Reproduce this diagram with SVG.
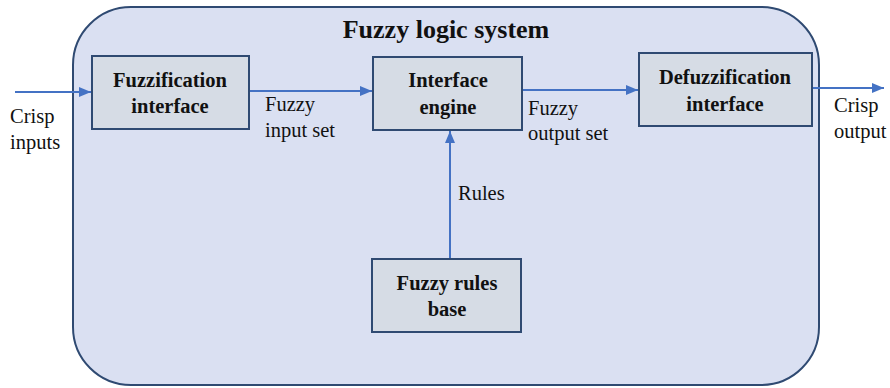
<svg xmlns="http://www.w3.org/2000/svg" width="890" height="388" viewBox="0 0 890 388">
<defs>
<style>
.box{fill:#d6dce5;stroke:#2f4a72;stroke-width:2}
.bt{font-family:'Liberation Serif','Times New Roman',Times,'DejaVu Serif',serif;font-weight:bold;font-size:20.5px;fill:#111;text-anchor:middle}
.lt{font-family:'Liberation Serif','Times New Roman',Times,'DejaVu Serif',serif;font-size:20.5px;fill:#111}
.tt{font-family:'Liberation Serif','Times New Roman',Times,'DejaVu Serif',serif;font-weight:bold;font-size:26px;fill:#111;text-anchor:middle}
.ln{stroke:#4472c4;stroke-width:2;fill:none}
</style>
<marker id="ah" viewBox="0 0 12 10" refX="12" refY="5" markerWidth="12" markerHeight="10" markerUnits="userSpaceOnUse" orient="auto">
<path d="M0,0 L12,5 L0,10 z" fill="#4472c4"/>
</marker>
</defs>
<rect width="890" height="388" fill="#fff"/>
<g id="system">
<rect x="73" y="7" width="746" height="378" rx="58" ry="58" fill="#dae0f2" stroke="#2f4a72" stroke-width="2"/>
<text class="tt" x="446" y="38">Fuzzy logic system</text>
</g>
<g id="connectors">
<line class="ln" x1="15" y1="92" x2="91" y2="92" marker-end="url(#ah)"/>
<line class="ln" x1="249" y1="91" x2="372" y2="91" marker-end="url(#ah)"/>
<line class="ln" x1="522" y1="90" x2="638" y2="90" marker-end="url(#ah)"/>
<line class="ln" x1="810" y1="88" x2="884" y2="88" marker-end="url(#ah)"/>
<line class="ln" x1="450" y1="259" x2="450" y2="131" marker-end="url(#ah)"/>
<text class="lt" x="10" y="123">Crisp</text>
<text class="lt" x="10" y="149">inputs</text>
<text class="lt" x="265" y="111">Fuzzy</text>
<text class="lt" x="265" y="137">input set</text>
<text class="lt" x="528" y="115">Fuzzy</text>
<text class="lt" x="528" y="140">output set</text>
<text class="lt" x="834" y="112">Crisp</text>
<text class="lt" x="834" y="138">output</text>
<text class="lt" x="458" y="200">Rules</text>
</g>
<g id="fuzzification">
<rect class="box" x="92" y="56" width="157" height="73"/>
<text class="bt" x="170" y="87">Fuzzification</text>
<text class="bt" x="170" y="113">interface</text>
</g>
<g id="engine">
<rect class="box" x="373" y="57" width="149" height="73"/>
<text class="bt" x="448" y="87">Interface</text>
<text class="bt" x="448" y="114">engine</text>
</g>
<g id="defuzzification">
<rect class="box" x="639" y="53" width="173" height="73"/>
<text class="bt" x="725" y="84">Defuzzification</text>
<text class="bt" x="725" y="111">interface</text>
</g>
<g id="rulesbase">
<rect class="box" x="372" y="259" width="149" height="73"/>
<text class="bt" x="447" y="290">Fuzzy rules</text>
<text class="bt" x="447" y="316">base</text>
</g>
</svg>
